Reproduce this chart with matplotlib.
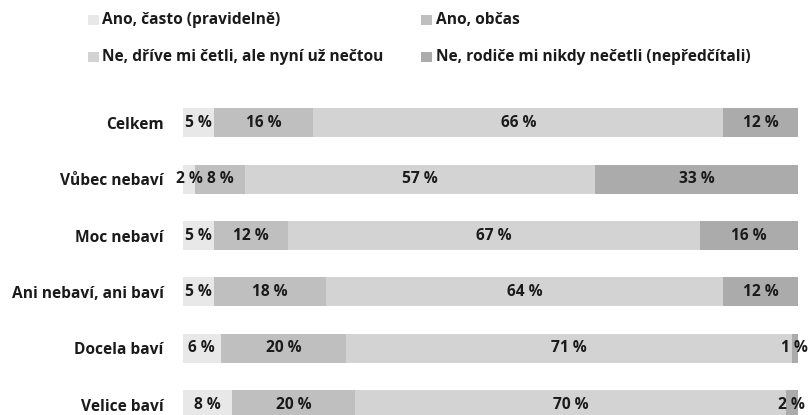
import matplotlib
matplotlib.use("Agg")
import matplotlib.pyplot as plt
from matplotlib.patches import Rectangle
import numpy as np

plt.rcParams['font.family'] = ['Open Sans', 'DejaVu Sans']

categories = ["Celkem", "Vůbec nebaví", "Moc nebaví", "Ani nebaví, ani baví", "Docela baví", "Velice baví"]
series_names = ["Ano, často (pravidelně)", "Ano, občas",
                "Ne, dříve mi četli, ale nyní už nečtou", "Ne, rodiče mi nikdy nečetli (nepředčítali)"]
often = [5, 2, 5, 5, 6, 8]
sometimes = [16, 8, 12, 18, 20, 20]
formerly = [66, 57, 67, 64, 71, 70]
never = [12, 33, 16, 12, 1, 2]
colors = ["#e8e8e8", "#bfbfbf", "#d3d3d3", "#ababab"]

W, H = 811, 415
fig = plt.figure(figsize=(W / 100, H / 100), dpi=100)

FS = 11.2
x0, x1 = 183, 798
ytop, ybot = 95, 415
ax = fig.add_axes([x0 / W, 1 - ybot / H, (x1 - x0) / W, (ybot - ytop) / H])

data = np.array([often, sometimes, formerly, never], dtype=float)
totals = data.sum(axis=0)
shares = data / totals
y = np.arange(len(categories))
left = np.zeros(len(categories))
for k in range(4):
    ax.barh(y, shares[k], left=left, height=0.515, color=colors[k], edgecolor='none')
    for i in range(len(categories)):
        ax.text(left[i] + shares[k][i] / 2, y[i], f"{int(data[k][i])} %",
                ha='center', va='center', fontsize=FS, fontweight='bold', color='#1a1a1a')
    left += shares[k]

ax.set_xlim(0, 1)
ax.set_ylim(5.186, -0.497)
ax.set_yticks(y)
ax.set_yticklabels(categories, fontsize=FS, fontweight='bold', color='#1a1a1a')
ax.tick_params(axis='y', length=0, pad=14)
ax.set_xticks([])
for s in ax.spines.values():
    s.set_visible(False)

leg_pos = [(88, 20), (421, 20), (88, 57), (421, 57)]
for k, (px, py) in enumerate(leg_pos):
    fig.patches.append(Rectangle((px / W, 1 - (py + 5) / H), 10.5 / W, 10 / H,
                                 transform=fig.transFigure, facecolor=colors[k], edgecolor='none'))
    fig.text((px + 14.5) / W, 1 - py / H, series_names[k], ha='left', va='center',
             fontsize=FS, fontweight='bold', color='#1a1a1a')

fig.savefig("out.png", dpi=100)
